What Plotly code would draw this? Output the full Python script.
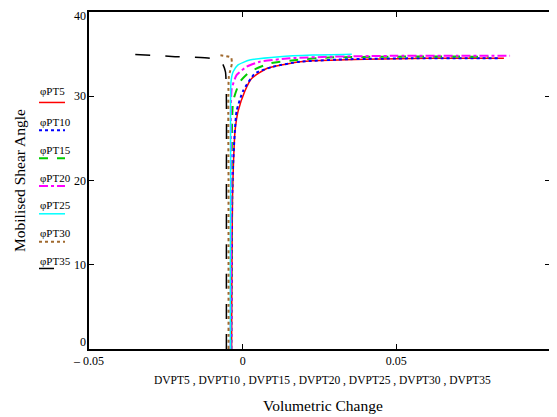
import plotly.graph_objects as go

# ---- data ----
dv_pt5 = [-0.0036, -0.0035, -0.0033, -0.0030, -0.0025, -0.0015, 0.0007, 0.0029, 0.0078, 0.0153, 0.0228, 0.040, 0.060, 0.085]
phi_pt5 = [0.0, 10.0, 18.0, 22.0, 25.8, 28.2, 30.6, 32.1, 33.3, 33.9, 34.2, 34.4, 34.5, 34.5]

dv_pt10 = [-0.0037, -0.0036, -0.0034, -0.0031, -0.0020, 0.0001, 0.0040, 0.0098, 0.0186, 0.035, 0.055, 0.083]
phi_pt10 = [0.0, 10.0, 18.0, 22.0, 28.2, 30.6, 32.7, 33.5, 34.1, 34.4, 34.5, 34.5]

dv_pt15 = [-0.0038, -0.0037, -0.0036, -0.0031, -0.0009, 0.0023, 0.0088, 0.0175, 0.028, 0.050, 0.080]
phi_pt15 = [0.0, 10.0, 20.0, 29.4, 31.7, 32.9, 33.9, 34.3, 34.6, 34.7, 34.7]

dv_pt20 = [-0.0039, -0.0038, -0.0037, -0.0036, -0.0020, 0.0013, 0.0056, 0.0153, 0.0293, 0.050, 0.070, 0.087]
phi_pt20 = [0.0, 10.0, 20.0, 30.8, 32.5, 33.5, 34.1, 34.5, 34.7, 34.8, 34.8, 34.8]

dv_pt25 = [-0.0040, -0.0040, -0.0039, -0.0038, -0.0031, -0.0016, 0.0023, 0.0120, 0.0228, 0.0355]
phi_pt25 = [0.0, 10.0, 20.0, 31.7, 32.9, 33.7, 34.3, 34.7, 34.9, 35.0]

dv_pt30 = [-0.0046, -0.0046, -0.0046, -0.0045, -0.0035, -0.0038, -0.0081]
phi_pt30 = [0.0, 10.0, 20.0, 32.3, 33.9, 34.6, 34.9]

dv_pt35 = [-0.0053, -0.0053, -0.0053, -0.0056, -0.0068, -0.0107, -0.0220, -0.0367]
phi_pt35 = [0.0, 10.0, 20.0, 32.9, 34.0, 34.5, 34.7, 35.0]

series_names = ["φPT5", "φPT10", "φPT15", "φPT20", "φPT25", "φPT30", "φPT35"]
x_ticks = [-0.05, 0, 0.05, 0.1]
x_tick_text = ["– 0.05", "0", "0.05", "0.1"]
y_ticks = [0, 10, 20, 30, 40]

xs = [dv_pt5, dv_pt10, dv_pt15, dv_pt20, dv_pt25, dv_pt30, dv_pt35]
ys = [phi_pt5, phi_pt10, phi_pt15, phi_pt20, phi_pt25, phi_pt30, phi_pt35]

colors = ["#ff0000", "#0000ff", "#00cc00", "#ff00ff", "#00ffff", "#a0692e", "#000000"]
dashes = ["solid", "dot", "dash", "dashdot", "solid", "dot", "longdash"]
widths = [1.5, 2, 2, 2, 1.5, 2, 1.5]

# page has an 8px body margin: figure sits at (8, 8)
O = 8
W, H = 557 - O, 417 - O
# plot area in page pixels
L, R, T, B = 89, 550, 10, 349
pw, ph = R - L, B - T


def px(x):
    return (x - L) / pw


def py(y):
    return (B - y) / ph


fig = go.Figure()
for i in range(7):
    fig.add_trace(go.Scatter(x=xs[i], y=ys[i], mode="lines", name=series_names[i],
                             line=dict(color=colors[i], dash=dashes[i], width=widths[i],
                                       shape="spline", smoothing=0.5),
                             showlegend=False, hoverinfo="skip"))

font = "Liberation Serif, Times New Roman, serif"

fig.update_layout(
    width=W, height=H,
    margin=dict(l=L - O, r=W - (R - O), t=T - O, b=H - (B - O)),
    paper_bgcolor="white", plot_bgcolor="white",
    font=dict(family=font, size=12, color="black"),
    xaxis=dict(range=[-0.05, 0.1], tickvals=x_ticks, ticktext=x_tick_text,
               showgrid=False, zeroline=False, showline=True, linecolor="black", linewidth=1.5,
               mirror="ticks", ticks="inside", ticklen=5, tickcolor="black",
               tickfont=dict(family=font, size=12)),
    yaxis=dict(range=[0, 40], tickvals=y_ticks, showticklabels=False,
               showgrid=False, zeroline=False, showline=True, linecolor="black", linewidth=1.5,
               mirror="ticks", ticks="inside", ticklen=5, tickcolor="black"),
)

# y tick labels (the 0 is raised above the x tick label, as in the reference)
for v in y_ticks:
    ys_shift = -2 if v == 0 else (-4 if v == 40 else 0)
    fig.add_annotation(xref="paper", yref="y", x=0, y=v, showarrow=False,
                       xanchor="right", yanchor="bottom" if v == 0 else "middle",
                       xshift=-1, yshift=ys_shift,
                       text=str(v), font=dict(family=font, size=12))

# axis titles
fig.add_annotation(xref="paper", yref="paper", x=px(322), y=py(381), showarrow=False,
                   xanchor="center", yanchor="middle",
                   text="DVPT5 , DVPT10 , DVPT15 , DVPT20 , DVPT25 , DVPT30 , DVPT35",
                   font=dict(family=font, size=11.5))
fig.add_annotation(xref="paper", yref="paper", x=px(323), y=py(406), showarrow=False,
                   xanchor="center", yanchor="middle",
                   text="Volumetric Change", font=dict(family=font, size=15.5))
fig.add_annotation(xref="paper", yref="paper", x=px(20), y=py(180), showarrow=False,
                   xanchor="center", yanchor="middle",
                   text="Mobilised Shear Angle", textangle=-90, font=dict(family=font, size=15.5))

# legend (text above a line sample)
text_y = [89, 121, 149, 177, 204, 232, 260]
line_y = [101, 129, 157, 185, 213, 241, 268]
for i in range(7):
    fig.add_annotation(xref="paper", yref="paper", x=px(38), y=py(text_y[i]), showarrow=False,
                       xanchor="left", yanchor="middle", text=series_names[i],
                       font=dict(family=font, size=11))
    fig.add_shape(type="line", xref="paper", yref="paper",
                  x0=px(39), x1=px(65), y0=py(line_y[i]), y1=py(line_y[i]),
                  line=dict(color=colors[i], dash=dashes[i], width=widths[i]))

fig.write_html("out.html")
